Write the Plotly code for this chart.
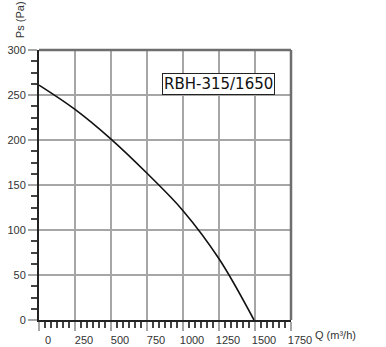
import plotly.graph_objects as go

# Data
flow_q = [0, 250, 500, 750, 1000, 1250, 1493]
pressure_ps = [261, 234, 201, 163, 121.5, 68, 0]
x_ticks = [0, 250, 500, 750, 1000, 1250, 1500, 1750]
y_ticks = [0, 50, 100, 150, 200, 250, 300]
model_label = "RBH-315/1650"

fig = go.Figure()
fig.add_trace(go.Scatter(
    x=flow_q, y=pressure_ps, mode="lines",
    line=dict(color="#111111", width=1.6, shape="spline", smoothing=1.0),
    showlegend=False, hoverinfo="skip",
))

grid_col = "#a6a6a6"
tick_font = dict(family="Liberation Sans, Arial, sans-serif", size=11, color="#333333")

fig.update_layout(
    width=386, height=347,
    margin=dict(l=39, r=95, t=50, b=27, autoexpand=False),
    paper_bgcolor="white", plot_bgcolor="white",
    xaxis=dict(
        range=[0, 1750], tickmode="array", tickvals=x_ticks,
        ticktext=[str(v) for v in x_ticks],
        showgrid=True, gridcolor=grid_col, gridwidth=2,
        ticks="outside", ticklen=9, tickwidth=2, tickcolor=grid_col,
        ticklabelshift=9, automargin=False,
        showline=True, linecolor="#222222", linewidth=2, mirror=False,
        zeroline=False, tickfont=tick_font,
        minor=dict(dtick=250 / 6, tick0=0, ticks="outside", ticklen=6,
                   tickwidth=1.5, tickcolor="#444444", showgrid=False),
    ),
    yaxis=dict(
        range=[0, 300], tickmode="array", tickvals=y_ticks,
        showgrid=True, gridcolor=grid_col, gridwidth=2,
        ticks="outside", ticklen=9, tickwidth=2, tickcolor=grid_col,
        automargin=False,
        showline=True, linecolor="#222222", linewidth=2, mirror=False,
        zeroline=False, tickfont=tick_font,
        minor=dict(dtick=12.5, tick0=0, ticks="outside", ticklen=6,
                   tickwidth=1.5, tickcolor="#444444", showgrid=False),
    ),
    shapes=[
        dict(type="line", xref="paper", yref="paper", x0=0, x1=1, y0=1, y1=1,
             line=dict(color="#6e6e6e", width=2.5)),
        dict(type="line", xref="paper", yref="paper", x0=1, x1=1, y0=0, y1=1,
             line=dict(color="#6e6e6e", width=2.5)),
    ],
    annotations=[
        dict(text=model_label, xref="paper", yref="paper", x=0.714, y=0.874,
             showarrow=False, xanchor="center", yanchor="middle",
             font=dict(family="DejaVu Sans", size=15, color="#111111"),
             bgcolor="white", bordercolor="#222222", borderwidth=1, borderpad=1),
        dict(text="Q (m³/h)", xref="paper", yref="paper", x=1.087, y=-0.056,
             showarrow=False, xanchor="left", yanchor="middle", font=tick_font),
        dict(text="Ps (Pa)", xref="paper", yref="paper", x=-0.075, y=1.111,
             showarrow=False, xanchor="center", yanchor="middle", textangle=-90,
             font=tick_font),
    ],
)

fig.write_html("out.html")
